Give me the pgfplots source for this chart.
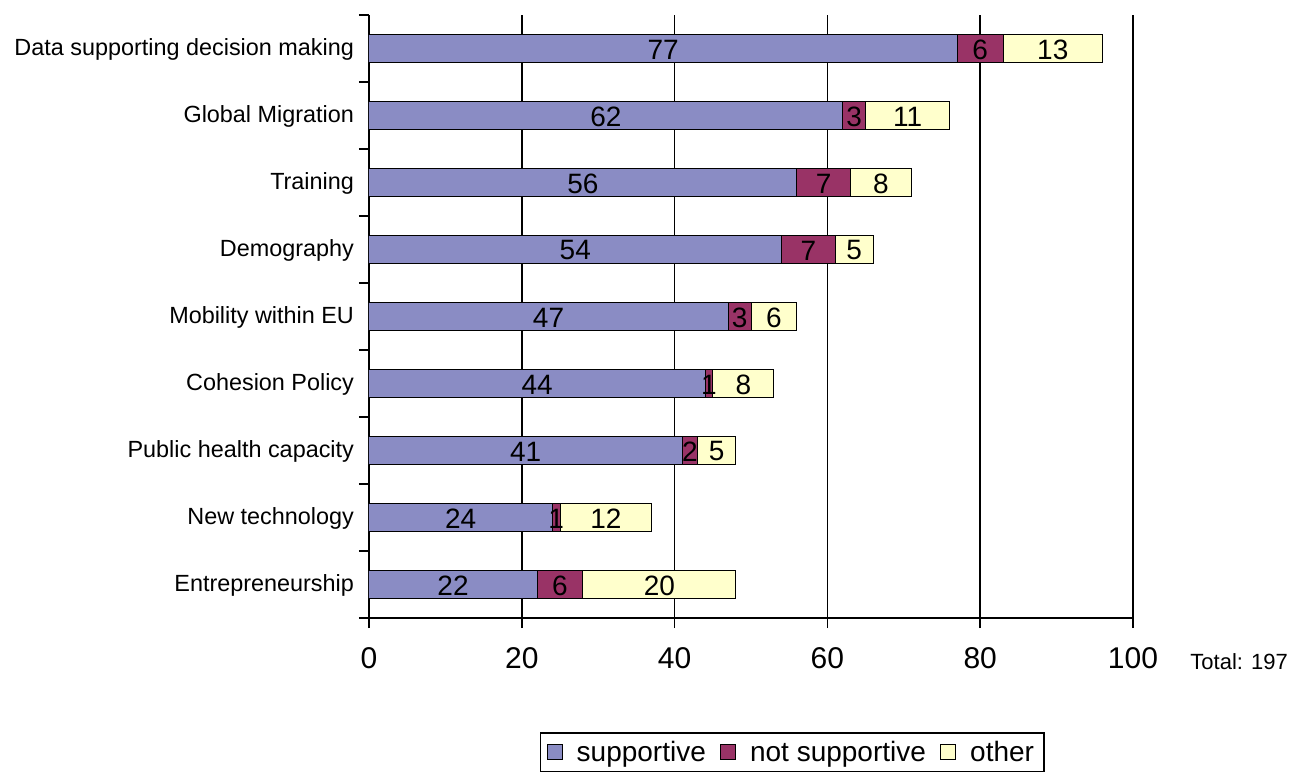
\documentclass[border=0pt]{standalone}
\usepackage{pgfplots}
\pgfplotsset{compat=1.18}
\usepackage{fontspec}
\setmainfont{Liberation Sans}
\definecolor{sup}{HTML}{8A8CC4}
\definecolor{nsup}{HTML}{993366}
\definecolor{oth}{HTML}{FFFFCC}
\pgfplotsset{myleg/.style={legend image code/.code={\draw[##1,draw=black,line width=0.6pt] (0pt,-3.5pt) rectangle (7.5pt,4pt);}}}
\begin{document}
\begin{tikzpicture}[x=1pt,y=1pt]
\useasboundingbox (0,0) rectangle (645,385.5);
\clip (0,0) rectangle (645,385.5);
\begin{axis}[
  at={(184.5pt,76.5pt)}, anchor=south west,
  width=382pt, height=301.5pt, scale only axis,
  xmin=0, xmax=100, ymin=-0.5, ymax=8.5,
  xbar stacked, bar width=14pt,
  axis x line*=bottom, axis y line*=left,
  axis line style={line width=0.8pt, black},
  xtick={0,20,...,100}, xmajorgrids,
  grid style={line width=0.8pt, black},
  tick style={line width=0.8pt, black},
  tick align=outside, major tick length=5pt,
  ytick={-0.5,0.5,...,8.5}, yticklabels={},
  extra y ticks={0,1,...,8},
  extra y tick labels={Entrepreneurship,New technology,Public health capacity,Cohesion Policy,Mobility within EU,Demography,Training,Global Migration,Data supporting decision making},
  extra y tick style={major tick length=0pt, yticklabel style={xshift=-4pt, yshift=-0.7pt}},
  yticklabel style={font=\fontsize{11.7}{13}\selectfont},
  xticklabel style={font=\fontsize{15}{18}\selectfont, yshift=-6pt},
  /pgf/number format/assume math mode=true,
  legend style={at={(0.554,0)}, anchor=north, yshift=-57pt, legend columns=3,
    draw=black, line width=0.8pt, font=\fontsize{14}{16}\selectfont,
    /tikz/every odd column/.append style={column sep=5pt},
    /tikz/every even column/.append style={column sep=5pt}},
  legend cell align=left,
]
\addplot[fill=sup, draw=black, line width=0.5pt, myleg] coordinates {
 (22,0) (24,1) (41,2) (44,3) (47,4) (54,5) (56,6) (62,7) (77,8)};
\addplot[fill=nsup, draw=black, line width=0.5pt, myleg] coordinates {
 (6,0) (1,1) (2,2) (1,3) (3,4) (7,5) (7,6) (3,7) (6,8)};
\addplot[fill=oth, draw=black, line width=0.5pt, myleg] coordinates {
 (20,0) (12,1) (5,2) (8,3) (6,4) (5,5) (8,6) (11,7) (13,8)};
\legend{supportive, not supportive, other}
\end{axis}
\begin{axis}[
  at={(184.5pt,76.5pt)}, anchor=south west,
  width=382pt, height=301.5pt, scale only axis,
  xmin=0, xmax=100, ymin=-0.5, ymax=8.5,
  hide axis,
]
\addplot[draw=none, mark=none, nodes near coords, point meta=explicit symbolic,
  every node near coord/.append style={anchor=center, inner sep=0pt, yshift=-0.5pt, font=\fontsize{14}{16}\selectfont, text=black}]
 coordinates {
 (11,0)[22] (25,0)[6] (38,0)[20]
 (12,1)[24] (24.5,1)[1] (31,1)[12]
 (20.5,2)[41] (42,2)[2] (45.5,2)[5]
 (22,3)[44] (44.5,3)[1] (49,3)[8]
 (23.5,4)[47] (48.5,4)[3] (53,4)[6]
 (27,5)[54] (57.5,5)[7] (63.5,5)[5]
 (28,6)[56] (59.5,6)[7] (67,6)[8]
 (31,7)[62] (63.5,7)[3] (70.5,7)[11]
 (38.5,8)[77] (80,8)[6] (89.5,8)[13]
 };
\end{axis}
\node[anchor=west, font=\fontsize{11}{12}\selectfont, inner sep=0pt] at (595,54.5) {Total: 197};
\end{tikzpicture}
\end{document}
